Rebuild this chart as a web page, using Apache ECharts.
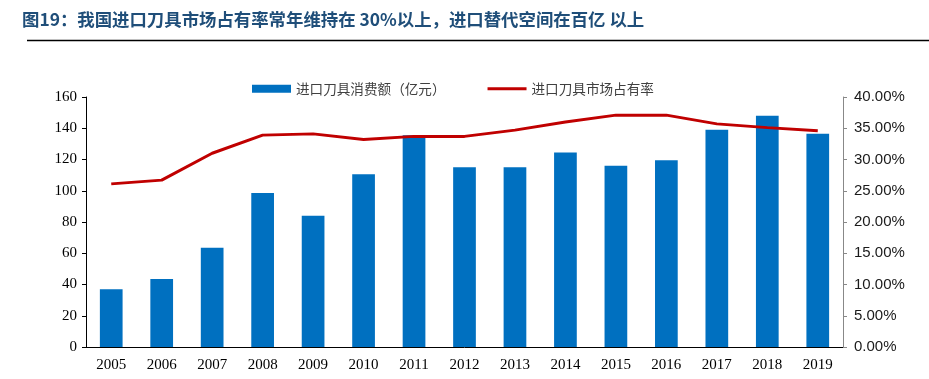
<!DOCTYPE html>
<html><head><meta charset="utf-8">
<script src="https://cdn.jsdelivr.net/npm/echarts@6/dist/echarts.min.js"></script>
<style>html,body{margin:0;padding:0;background:#fff}#c{width:929px;height:379px}</style>
</head><body><div id="c"></div>
<script>
const years = ['2005','2006','2007','2008','2009','2010','2011','2012','2013','2014','2015','2016','2017','2018','2019'];
const consumption = [37, 43.5, 63.5, 98.5, 84, 110.5, 135.5, 115, 115, 124.5, 116, 119.5, 139, 148, 136.5];
const share = [26.1, 26.7, 31.0, 33.9, 34.1, 33.2, 33.7, 33.7, 34.7, 36.0, 37.1, 37.1, 35.7, 35.1, 34.6];
const leftTicks = [0, 160, 20];
const rightTicks = [0, 40, 5];
const titleText = '图19：我国进口刀具市场占有率常年维持在 30%以上，进口替代空间在百亿 以上';
const barName = '进口刀具消费额（亿元）';
const lineName = '进口刀具市场占有率';

const chart = echarts.init(document.getElementById('c'), null, {renderer: 'canvas'});
chart.setOption({
  animation: false,
  graphic: [
    {type: 'text', left: 22, top: 11, style: {text: titleText, font: 'bold 17.4px "Noto Sans CJK SC", sans-serif', fill: '#1F4E79'}},
    {type: 'line', shape: {x1: 27, y1: 40.5, x2: 929, y2: 40.5}, style: {stroke: '#000', lineWidth: 1.6}}
  ],
  legend: {
    left: 247, top: 77, itemGap: 42, itemWidth: 39, itemHeight: 8,
    textStyle: {fontFamily: '"Noto Sans CJK SC", sans-serif', fontSize: 13.6, color: '#404040'},
    data: [
      {name: barName, icon: 'rect'},
      {name: lineName, icon: 'path://M0,0H40V3H0Z'}
    ]
  },
  grid: {left: 86, right: 86, top: 97, bottom: 32, containLabel: false},
  xAxis: {
    type: 'category', data: years,
    axisLine: {lineStyle: {color: '#000', width: 1}},
    axisTick: {inside: true, length: 4, lineStyle: {color: '#000'}},
    axisLabel: {fontFamily: '"Liberation Serif", "Times New Roman", serif', fontSize: 15, color: '#000', margin: 11}
  },
  yAxis: [
    {type: 'value', min: leftTicks[0], max: leftTicks[1], interval: leftTicks[2],
     axisLine: {show: true, lineStyle: {color: '#000'}},
     axisTick: {show: true, length: 4, lineStyle: {color: '#000'}},
     splitLine: {show: false},
     axisLabel: {fontFamily: '"Liberation Serif", "Times New Roman", serif', fontSize: 15, color: '#000', margin: 9}},
    {type: 'value', min: rightTicks[0], max: rightTicks[1], interval: rightTicks[2], position: 'right',
     axisLine: {show: true, lineStyle: {color: '#888'}},
     axisTick: {show: true, length: 4, lineStyle: {color: '#888'}},
     splitLine: {show: false},
     axisLabel: {fontFamily: '"Liberation Sans", Arial, sans-serif', fontSize: 15, color: '#1a1a1a', margin: 11,
       formatter: v => v.toFixed(2) + '%'}}
  ],
  series: [
    {name: barName, type: 'bar', data: consumption, barWidth: '45%', itemStyle: {color: '#0070C0'}, yAxisIndex: 0},
    {name: lineName, type: 'line', data: share, yAxisIndex: 1, showSymbol: false, symbol: 'none',
     lineStyle: {color: '#C00000', width: 3}, itemStyle: {color: '#C00000'}}
  ]
});
</script></body></html>
